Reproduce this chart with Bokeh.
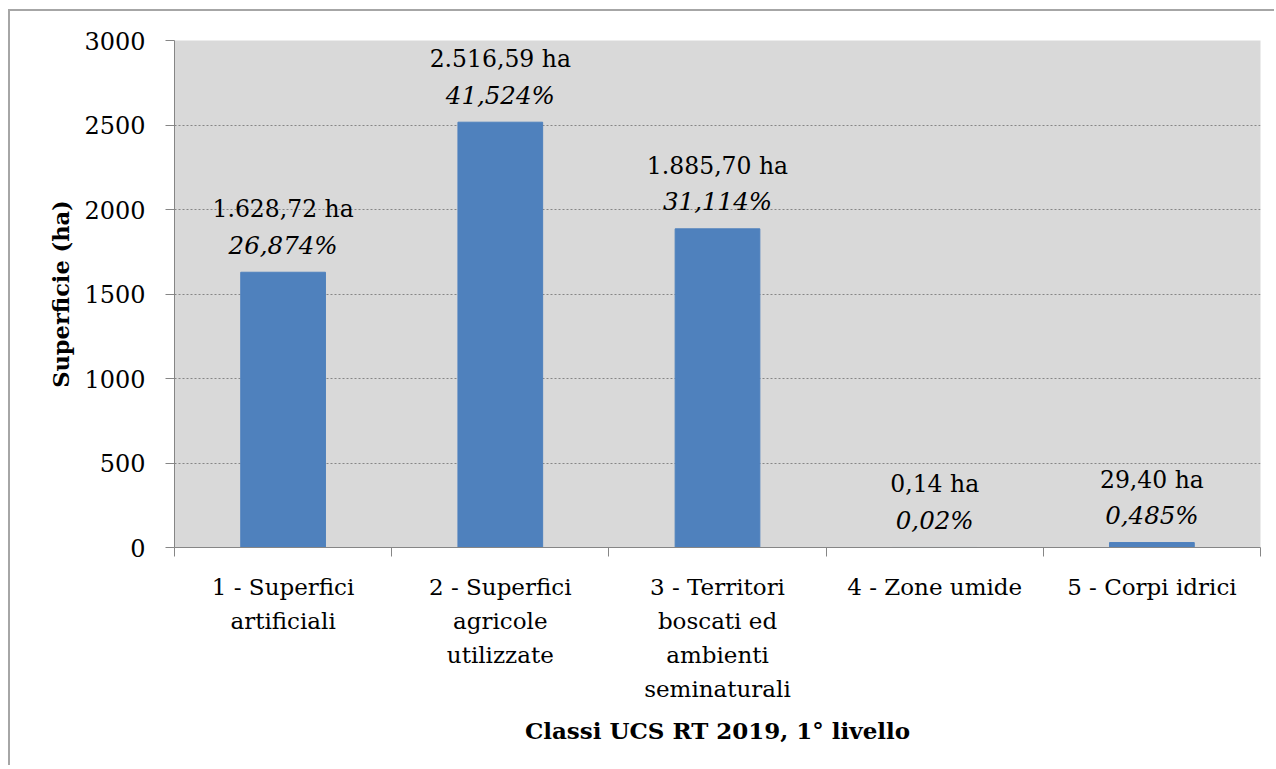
from bokeh.plotting import figure
from bokeh.models import ColumnDataSource, FixedTicker, Range1d
from bokeh.core.properties import value
from bokeh.embed import file_html
from bokeh.resources import INLINE

categories = [
    "1 - Superfici\nartificiali",
    "2 - Superfici\nagricole\nutilizzate",
    "3 - Territori\nboscati ed\nambienti\nseminaturali",
    "4 - Zone umide",
    "5 - Corpi idrici",
]
area_ha = [1628.72, 2516.59, 1885.70, 0.14, 29.40]
percent = [26.874, 41.524, 31.114, 0.02, 0.485]
y_ticks = [0, 500, 1000, 1500, 2000, 2500, 3000]

xpos = [i + 1 for i in range(len(categories))]

def it_num(v):
    s = "{:,.2f}".format(v)
    return s.replace(",", "X").replace(".", ",").replace("X", ".")

src = ColumnDataSource(dict(
    x=xpos,
    top=area_ha,
    vlab=[it_num(v) + " ha" for v in area_ha],
    plab=[str(p).replace(".", ",") + "%" for p in percent],
))

SERIF = "DejaVu Serif"

p = figure(width=1266, height=756, output_backend="svg", toolbar_location=None,
           x_range=Range1d(0.5, len(categories) + 0.5), y_range=Range1d(0, 3000),
           min_border_left=164, min_border_top=29, min_border_right=16, min_border_bottom=220)
p.styles = {"border-left": "2px solid #a6a6a6", "border-top": "2px solid #a6a6a6",
            "margin-left": "8px", "margin-top": "9px"}
p.background_fill_color = "#d9d9d9"
p.border_fill_color = "white"
p.outline_line_color = None

p.vbar(x="x", top="top", width=0.39, source=src, fill_color="#4f81bd", line_color="#4f81bd", line_width=1)

p.text(x="x", y="top", text="vlab", source=src, y_offset=-63, text_align="center",
       text_baseline="middle", text_font=value(SERIF), text_font_size="23.5px", text_color="black")
p.text(x="x", y="top", text="plab", source=src, y_offset=-27, text_align="center",
       text_baseline="middle", text_font=value(SERIF), text_font_style="italic",
       text_font_size="24.5px", text_color="black")

# grid
p.xgrid.visible = False
p.ygrid.ticker = FixedTicker(ticks=y_ticks)
p.ygrid.grid_line_color = "#868686"
p.ygrid.grid_line_dash = "2 2"
p.ygrid.grid_line_width = 1

# y axis
ya = p.yaxis[0]
ya.ticker = FixedTicker(ticks=y_ticks)
ya.axis_line_color = "#868686"
ya.major_tick_line_color = "#868686"
ya.major_tick_out = 9
ya.major_tick_in = 0
ya.minor_tick_line_color = None
ya.major_label_text_font = SERIF
ya.major_label_text_font_size = "24px"
ya.major_label_text_color = "black"
ya.major_label_standoff = 20
ya.axis_label = "Superficie (ha)"
ya.axis_label_text_font = SERIF
ya.axis_label_text_font_style = "bold"
ya.axis_label_text_font_size = "22.5px"
ya.axis_label_text_color = "black"
ya.axis_label_standoff = 7

# x axis
xa = p.xaxis[0]
xa.ticker = FixedTicker(ticks=xpos, minor_ticks=[i + 0.5 for i in range(len(categories) + 1)])
xa.major_label_overrides = {x: c for x, c in zip(xpos, categories)}
xa.axis_line_color = "#868686"
xa.major_tick_line_color = None
xa.minor_tick_line_color = "#868686"
xa.minor_tick_out = 9
xa.minor_tick_in = 0
xa.major_label_text_font = SERIF
xa.major_label_text_font_size = "23px"
xa.major_label_text_color = "black"
xa.major_label_text_line_height = 1.31
xa.major_label_standoff = 17
xa.axis_label = "Classi UCS RT 2019, 1° livello"
xa.axis_label_text_font = SERIF
xa.axis_label_text_font_style = "bold"
xa.axis_label_text_font_size = "23px"
xa.axis_label_text_color = "black"
xa.axis_label_standoff = 12

open("out.html", "w").write(file_html(p, INLINE))
